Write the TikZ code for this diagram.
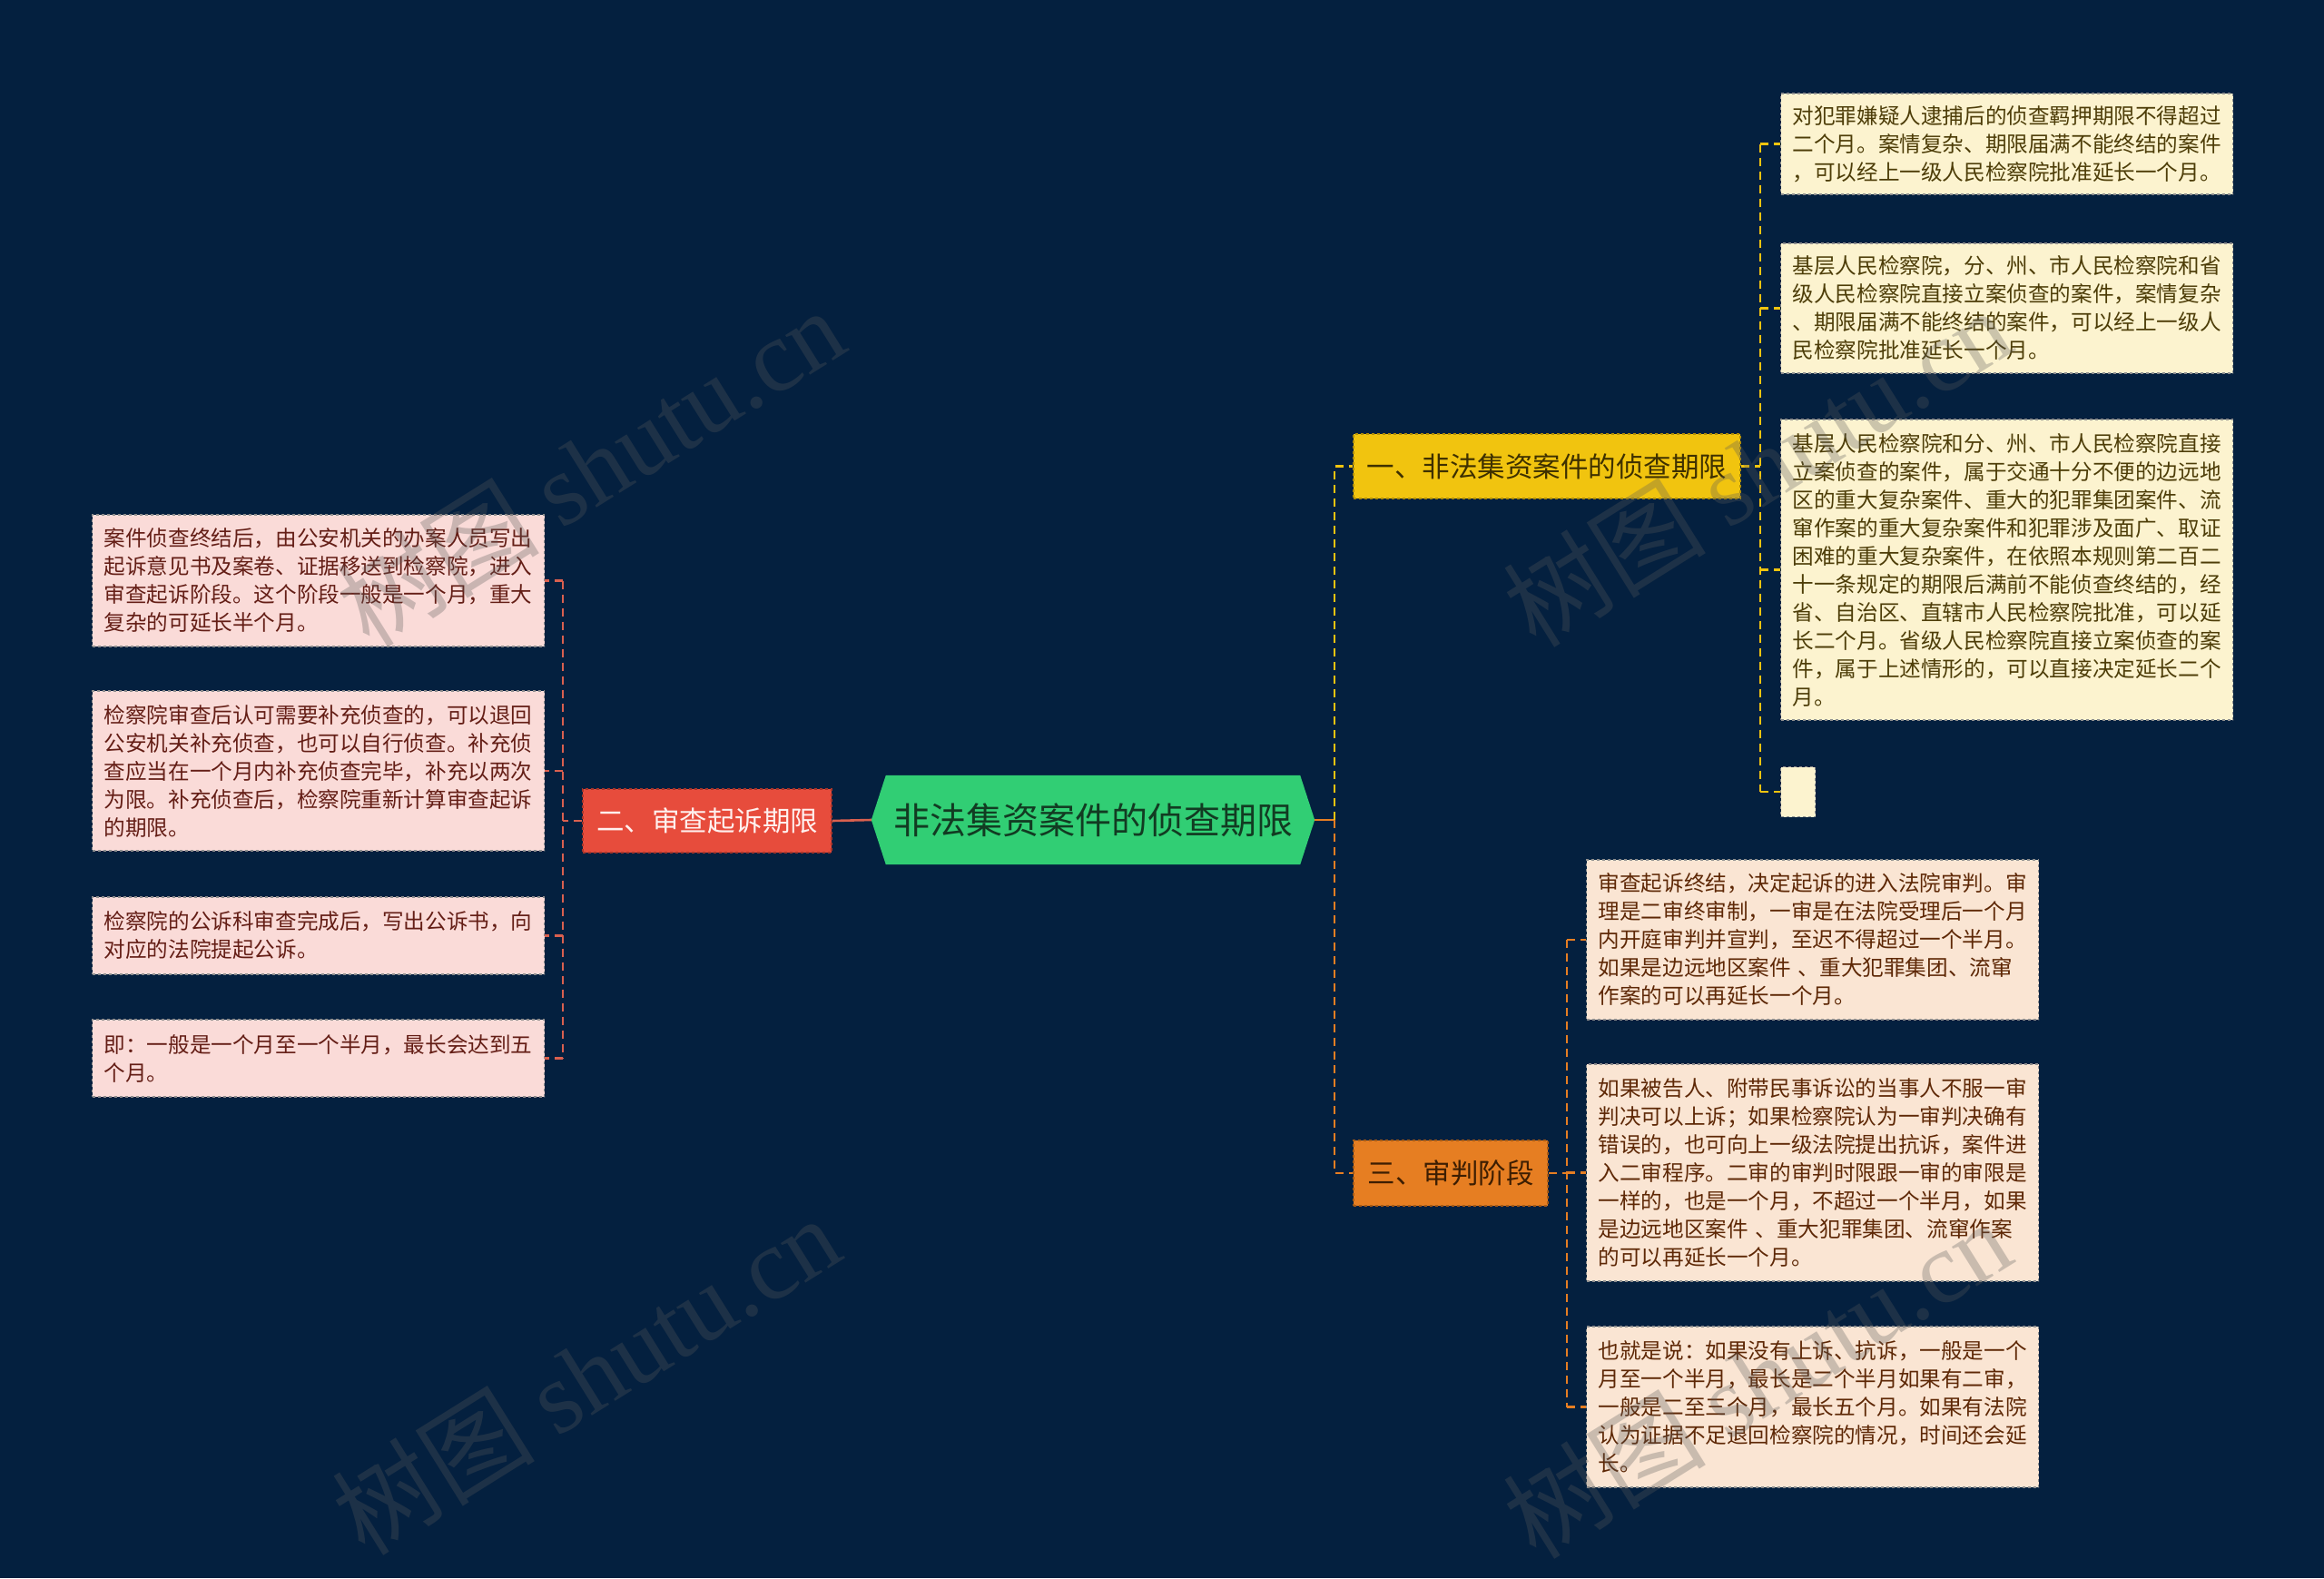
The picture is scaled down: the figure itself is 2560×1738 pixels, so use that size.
\documentclass[tikz,border=0pt]{standalone}
\usepackage{fontspec}
\setmainfont{Noto Sans CJK SC}
\newfontfamily\wmserif{Liberation Serif}
\pgfdeclarelayer{back}
\pgfdeclarelayer{mid}
\pgfsetlayers{back,mid,main}
\definecolor{bgnavy}{HTML}{04203F}
\definecolor{rootfill}{HTML}{31CE74}
\definecolor{roottext}{HTML}{123B22}
\definecolor{yfill}{HTML}{F1C40F}
\definecolor{yborder}{HTML}{B08E08}
\definecolor{ytext}{HTML}{3E3000}
\definecolor{ofill}{HTML}{E67E22}
\definecolor{oborder}{HTML}{A65A14}
\definecolor{otext}{HTML}{3D1E02}
\definecolor{rfill}{HTML}{E74C3C}
\definecolor{rborder}{HTML}{A8352A}
\definecolor{rtext}{HTML}{FFF0EE}
\definecolor{yleaffill}{HTML}{FCF3CF}
\definecolor{oleaffill}{HTML}{FAE5D3}
\definecolor{rleaffill}{HTML}{FADBD8}
\definecolor{yleaftext}{HTML}{4D3D08}
\definecolor{oleaftext}{HTML}{5E2806}
\definecolor{rleaftext}{HTML}{641E16}
\definecolor{leafborder}{HTML}{8E8E8E}
\definecolor{ylinec}{HTML}{F1C40F}
\definecolor{olinec}{HTML}{E67E22}
\definecolor{rlinec}{HTML}{D9604F}
\definecolor{wmgray}{HTML}{5A5A5A}
\begin{document}
\begin{tikzpicture}[x=1pt,y=-1pt,
  rootnode/.style={rectangle, minimum width=488pt, minimum height=98pt, inner sep=0pt,
    font=\fontsize{40pt}{48pt}\selectfont, text=roottext},
  branchbox/.style={rectangle, dashed, line width=1.2pt, inner sep=0pt,
    font=\fontsize{30.5pt}{36pt}\selectfont},
  leafbox/.style={rectangle, draw=leafborder, dashed, line width=1.2pt, anchor=west},
  leaftext/.style={leafbox, text width=472pt, align=left, inner xsep=13pt, inner ysep=0pt,
    font=\fontsize{23.6pt}{31pt}\selectfont},
  yleaf/.style={leaftext, fill=yleaffill, text=yleaftext},
  oleaf/.style={leaftext, fill=oleaffill, text=oleaftext},
  rleaf/.style={leaftext, fill=rleaffill, text=rleaftext},
  dashline/.style={line width=2.4pt, dash pattern=on 9pt off 6pt},
  ydash/.style={dashline, draw=ylinec},
  odash/.style={dashline, draw=olinec},
  rdash/.style={dashline, draw=rlinec},
  wm/.style={text=wmgray, opacity=0.3, font=\fontsize{112pt}{120pt}\selectfont, rotate=32, inner sep=0pt}
]
\begin{pgfonlayer}{back}
\fill[bgnavy] (0,0) rectangle (2560,1738);
\end{pgfonlayer}
\useasboundingbox (0,0) rectangle (2560,1738);

% root
\node[rootnode] (root) at (1204,903) {非法集资案件的侦查期限};
\begin{pgfonlayer}{mid}
\fill[rootfill] (root.west) -- ([xshift=16pt]root.north west) -- ([xshift=-16pt]root.north east)
  -- (root.east) -- ([xshift=-16pt]root.south east) -- ([xshift=16pt]root.south west) -- cycle;
\end{pgfonlayer}

% branches
\node[branchbox, fill=yfill, draw=yborder, text=ytext, minimum width=426pt, minimum height=71pt]
  (ybox) at (1704,513.5) {一、非法集资案件的侦查期限};
\node[branchbox, fill=rfill, draw=rborder, text=rtext, minimum width=274pt, minimum height=70pt]
  (rbox) at (779,904) {二、审查起诉期限};
\node[branchbox, fill=ofill, draw=oborder, text=otext, minimum width=214pt, minimum height=72pt]
  (obox) at (1598,1292) {三、审判阶段};

% yellow leaves
\node[yleaf, minimum height=111pt] (y1) at (1961,158.5) {对犯罪嫌疑人逮捕后的侦查羁押期限不得超过\\二个月。案情复杂、期限届满不能终结的案件\\，可以经上一级人民检察院批准延长一个月。};
\node[yleaf, minimum height=143pt] (y2) at (1961,339.5) {基层人民检察院，分、州、市人民检察院和省\\级人民检察院直接立案侦查的案件，案情复杂\\、期限届满不能终结的案件，可以经上一级人\\民检察院批准延长一个月。};
\node[yleaf, minimum height=331pt] (y3) at (1961,627.5) {基层人民检察院和分、州、市人民检察院直接\\立案侦查的案件，属于交通十分不便的边远地\\区的重大复杂案件、重大的犯罪集团案件、流\\窜作案的重大复杂案件和犯罪涉及面广、取证\\困难的重大复杂案件，在依照本规则第二百二\\十一条规定的期限后满前不能侦查终结的，经\\省、自治区、直辖市人民检察院批准，可以延\\长二个月。省级人民检察院直接立案侦查的案\\件，属于上述情形的，可以直接决定延长二个\\月。};
\node[leafbox, fill=yleaffill, minimum width=38pt, minimum height=55pt, inner sep=0pt] (y4) at (1961,872) {};

% orange leaves
\node[oleaf, minimum height=176pt] (o1) at (1747,1035) {审查起诉终结，决定起诉的进入法院审判。审\\理是二审终审制，一审是在法院受理后一个月\\内开庭审判并宣判，至迟不得超过一个半月。\\如果是边远地区案件 、重大犯罪集团、流窜\\作案的可以再延长一个月。};
\node[oleaf, minimum height=239pt] (o2) at (1747,1291.5) {如果被告人、附带民事诉讼的当事人不服一审\\判决可以上诉；如果检察院认为一审判决确有\\错误的，也可向上一级法院提出抗诉，案件进\\入二审程序。二审的审判时限跟一审的审限是\\一样的，也是一个月，不超过一个半月，如果\\是边远地区案件 、重大犯罪集团、流窜作案\\的可以再延长一个月。};
\node[oleaf, minimum height=177pt] (o3) at (1747,1549.5) {也就是说：如果没有上诉、抗诉，一般是一个\\月至一个半月，最长是二个半月如果有二审，\\一般是二至三个月，最长五个月。如果有法院\\认为证据不足退回检察院的情况，时间还会延\\长。};

% red leaves
\node[rleaf, minimum height=145pt] (r1) at (101,639.5) {案件侦查终结后，由公安机关的办案人员写出\\起诉意见书及案卷、证据移送到检察院，进入\\审查起诉阶段。这个阶段一般是一个月，重大\\复杂的可延长半个月。};
\node[rleaf, minimum height=176pt] (r2) at (101,849) {检察院审查后认可需要补充侦查的，可以退回\\公安机关补充侦查，也可以自行侦查。补充侦\\查应当在一个月内补充侦查完毕，补充以两次\\为限。补充侦查后，检察院重新计算审查起诉\\的期限。};
\node[rleaf, minimum height=85pt] (r3) at (101,1030.5) {检察院的公诉科审查完成后，写出公诉书，向\\对应的法院提起公诉。};
\node[rleaf, minimum height=85pt] (r4) at (101,1165.5) {即：一般是一个月至一个半月，最长会达到五\\个月。};

% connectors: root to right side
\coordinate (rbus) at (1470,903);
\draw[olinec, line width=2.6pt] (root.east) -- (rbus);
\draw[ydash] (rbus) -- (rbus |- ybox.west) -- (ybox.west);
\draw[odash] (rbus) -- (rbus |- obox.west) -- (obox.west);

% yellow bus
\coordinate (ybus) at (1939,513.5);
\draw[ydash] (ybox.east) -- (ybus);
\draw[ydash] (ybus |- y1.west) -- (ybus |- y4.west);
\foreach \n in {y1,y2,y3,y4} \draw[ydash] (ybus |- \n.west) -- (\n.west);

% orange bus
\coordinate (obus) at (1726,1292);
\draw[odash] (obox.east) -- (obus);
\draw[odash] (obus |- o1.west) -- (obus |- o3.west);
\foreach \n in {o1,o2,o3} \draw[odash] (obus |- \n.west) -- (\n.west);

% red side
\draw[rlinec, line width=2.6pt] (root.west) -- (rbox.east);
\coordinate (lbus) at (620,904);
\draw[rdash] (rbox.west) -- (lbus);
\draw[rdash] (lbus |- r1.east) -- (lbus |- r4.east);
\foreach \n in {r1,r2,r3,r4} \draw[rdash] (lbus |- \n.east) -- (\n.east);

% watermarks
\node[wm] (wm1) at (650,514) {树图 {\wmserif shutu.cn}};
\node[wm] (wm2) at (1935,514) {树图 {\wmserif shutu.cn}};
\node[wm] (wm3) at (645,1514) {树图 {\wmserif shutu.cn}};
\node[wm] (wm4) at (1935,1518) {树图 {\wmserif shutu.cn}};
\end{tikzpicture}
\end{document}
